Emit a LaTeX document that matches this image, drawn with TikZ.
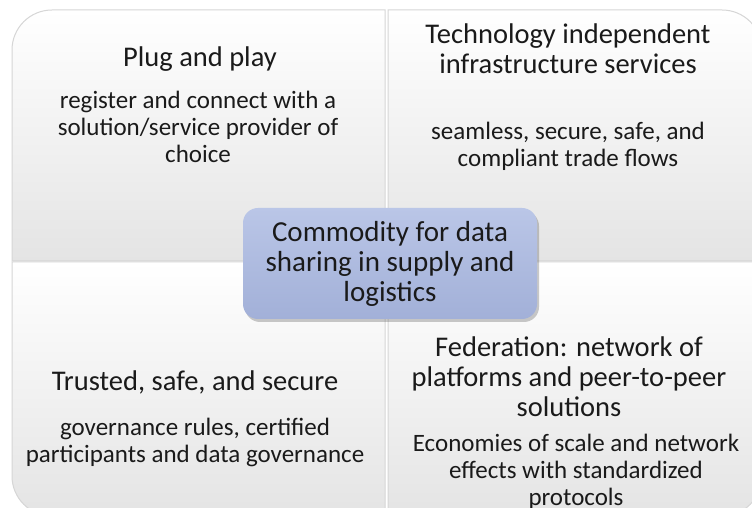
\documentclass[tikz,border=0pt]{standalone}
\usepackage{fontspec}
\setmainfont{Carlito}
\usetikzlibrary{shadows}
\definecolor{quadedge}{HTML}{D6D6D6}
\definecolor{quadbot}{HTML}{E4E4E4}
\definecolor{ctop}{HTML}{BAC6E7}
\definecolor{cbot}{HTML}{A2B0D8}
\definecolor{txt}{HTML}{1A1A1A}
\begin{document}
\begin{tikzpicture}[x=1pt,y=1pt,
  quad/.style={draw=quadedge, line width=1pt, top color=white, bottom color=quadbot},
  ttl/.style={align=center, text=txt, font=\fontsize{28.5}{30}\selectfont, inner sep=0pt},
  body/.style={align=center, text=txt, font=\fontsize{25}{27}\selectfont, inner sep=0pt},
  centerbox/.style={draw=none, rounded corners=15pt, top color=ctop, bottom color=cbot,
    minimum width=294pt, minimum height=111pt, align=center, text=txt,
    font=\fontsize{29}{30}\selectfont,
    drop shadow={shadow xshift=2pt, shadow yshift=-3pt, opacity=0.35, fill=black!60}}]
\useasboundingbox (0,0) rectangle (752,508);
\clip (0,0) rectangle (752,508);
\fill[white] (0,0) rectangle (752,508);
% quadrants
\path[quad] (385,247) -- (12,247) -- (12,458) arc(180:90:40) -- (385,498) -- cycle;
\path[quad] (388,247) -- (388,498) -- (722,498) arc(90:0:40) -- (762,247) -- cycle;
\path[quad] (385,246) -- (385,-8) -- (52,-8) arc(270:180:40) -- (12,246) -- cycle;
\path[quad] (388,246) -- (762,246) -- (762,32) arc(0:-90:40) -- (388,-8) -- cycle;
% texts
\node[ttl] (tlt) at (200,449) {Plug and play};
\node[body] (tlb) at (198,381) {register and connect with a\\solution/service provider of\\choice};
\node[ttl] (trt) at (568,459) {Technology independent\\infrastructure services};
\node[body] (trb) at (568,362) {seamless, secure, safe, and\\compliant trade flows};
\node[ttl] (blt) at (195,126) {Trusted, safe, and secure};
\node[body] (blb) at (195,65.5) {governance rules, certified\\participants and data governance};
\node[ttl] (brt) at (569,131) {Federation: network of\\platforms and peer-to-peer\\solutions};
\node[body] (brb) at (576,36.5) {Economies of scale and network\\effects with standardized\\protocols};
% center
\node[centerbox] (center) at (390,244.5) {Commodity for data\\sharing in supply and\\logistics};
\end{tikzpicture}
\end{document}
